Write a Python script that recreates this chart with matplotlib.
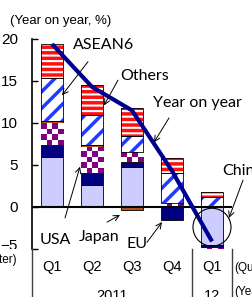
import matplotlib
matplotlib.use('Agg')
import matplotlib.pyplot as plt
import matplotlib.patches as mpatches
import matplotlib.transforms as mtransforms
import numpy as np

# ── data (contribution to year-on-year growth, % points) ──────────────────
quarters = ['Q1', 'Q2', 'Q3', 'Q4', 'Q1']
years    = ['2011', '12']
china    = [5.9, 2.6, 4.8, 0.15, -4.5]
eu       = [1.5, 1.4, 0.5, -1.6, -0.4]
usa      = [2.6, 3.1, 1.2, 0.3, -0.15]
japan    = [0.2, 0.3, -0.4, 0.05, 0.0]
asean6   = [5.1, 3.6, 2.0, 3.55, 1.15]
others   = [4.1, 3.5, 3.3, 1.8, 0.65]
total    = [19.4, 14.3, 11.5, 4.3, -4.1]

plt.rcParams['hatch.linewidth'] = 2.5
TICK_FONT = 'Liberation Sans'
LBL_FONT  = 'Lato'

fig = plt.figure(figsize=(2.52, 2.97), dpi=100)
ax = fig.add_axes([32/252, 48/297, 200/252, 210/297])

x = np.arange(len(quarters))
width = 0.57
pos_base = np.zeros(len(x))
neg_base = np.zeros(len(x))

# (values, face, hatch colour, hatch)
series = [
    (china,  '#CCCCFF', None,      None),
    (eu,     '#000080', None,      None),
    (usa,    'white',   '#800080', 'checker'),
    (japan,  '#B5541C', None,      None),
    (asean6, 'white',   '#1F3BFF', '//'),
    (others, 'white',   '#FF1010', '---'),
]

for vals, face, hcol, hatch in series:
    v = np.array(vals, dtype=float)
    bottom = np.where(v >= 0, pos_base, neg_base)
    if hatch in ('//', '---'):
        ax.bar(x, v, width, bottom=bottom, color=face, edgecolor=hcol,
               hatch=hatch, linewidth=0, zorder=2)
        ax.bar(x, v, width, bottom=bottom, fill=False, edgecolor='black',
               linewidth=0.6, zorder=2.1)
    else:
        bars = ax.bar(x, v, width, bottom=bottom, color=face,
                      edgecolor='black', linewidth=0.6, zorder=2)
        if hatch == 'checker':
            for b in bars:
                bx, by = b.get_x(), b.get_y()
                bw, bh = b.get_width(), b.get_height()
                if abs(bh) < 1e-6:
                    continue
                ncol = 4
                nrow = max(1, int(round(abs(bh) * 8.4 / 5.7)))
                cells = (np.indices((nrow, ncol)).sum(axis=0) % 2)
                img = ax.imshow(cells, cmap=matplotlib.colors.ListedColormap(['white', hcol]),
                                extent=(bx, bx + bw, by, by + bh), aspect='auto',
                                interpolation='nearest', zorder=2.05, origin='lower')
                img.set_clip_path(b)
    pos_base = pos_base + np.where(v >= 0, v, 0)
    neg_base = neg_base + np.where(v < 0, v, 0)

ax.plot(x, total, color='#000090', linewidth=3, zorder=4, solid_capstyle='butt')
ax.axhline(0, color='black', linewidth=1.5, zorder=3)

ax.set_xlim(-0.5, 4.5)
ax.set_ylim(-5, 20)
ax.set_yticks([-5, 0, 5, 10, 15, 20])
ax.set_yticklabels(['\u22125', '0', '5', '10', '15', '20'], fontsize=11, family=TICK_FONT)
ax.set_xticks([])
ax.tick_params(axis='y', direction='in', length=4, width=1, pad=10)
for s in ['top', 'right', 'bottom']:
    ax.spines[s].set_visible(False)
ax.spines['left'].set_linewidth(1.2)
ax.set_facecolor('none')
# lift the -5 label a little, as in the source
lab = ax.get_yticklabels()[0]
lab.set_transform(lab.get_transform() +
                  mtransforms.ScaledTranslation(0, 4/100, fig.dpi_scale_trans))

# highlight circle for Q1 2012
ax.add_patch(mpatches.Ellipse((4, -2.4), 0.95, 4.5, fill=False,
                              edgecolor='black', linewidth=0.8, zorder=5))

# ── labels and arrows ─────────────────────────────────────────────────────
arw = dict(arrowstyle='->', color='black', lw=0.7, shrinkA=0, shrinkB=0)
notes = [
    ('ASEAN6',       (0.525, 19.3), (0.9, 17.3),   (0.25, 13.3)),
    ('Others',       (1.7, 15.6),   (1.65, 15.1),  (1.3, 12.1)),
    ('Year on year', (2.53, 12.4),  (2.925, 10.6), (2.55, 7.7)),
    ('China',        (4.25, 4.3),   (4.775, 3.2),  (4.425, -1.3)),
    ('USA',          (-0.3, -3.9),  (0.325, -1.3), (0.7, 4.8)),
    ('Japan',        (0.675, -3.6), (1.375, -1.8), (1.7, -0.95)),
    ('EU',           (1.85, -4.4),  (2.375, -4.2), (2.75, -1.8)),
]
for txt, tpos, tail, head in notes:
    ax.text(tpos[0], tpos[1], txt, ha='left', va='center', fontsize=11.5,
            family=LBL_FONT, zorder=6, clip_on=False)
    ax.annotate('', xy=head, xytext=tail, arrowprops=arw, zorder=6)

fig.text(10/252, 1 - 21/297, '(Year on year, %)', fontsize=9.5,
         family=TICK_FONT, ha='left', va='center')

# white strip below the plot, covering the lower half of the -5 label
fig.patches.append(mpatches.Rectangle((0, 0), 31/252, 48/297, transform=fig.transFigure,
                                      facecolor='white', edgecolor='none', zorder=10))

# category table under the axis
for px in [32, 192, 232]:
    fig.add_artist(plt.Line2D([px/252, px/252], [0, 48/297], color='#404040',
                              linewidth=1, zorder=11))
for i, q in enumerate(quarters):
    fig.text((52 + 40*i)/252, 1 - 267/297, q, fontsize=10.5, family=TICK_FONT,
             ha='center', va='center', zorder=12)
fig.text(112/252, 1 - 296/297, years[0], fontsize=10.5, family=TICK_FONT,
         ha='center', va='center', zorder=12)
fig.text(212/252, 1 - 296/297, years[1], fontsize=10.5, family=TICK_FONT,
         ha='center', va='center', zorder=12)
fig.text(234/252, 1 - 268/297, '(Quarter)', fontsize=8.5, family=TICK_FONT,
         ha='left', va='center', zorder=12)
fig.text(234/252, 1 - 292/297, '(Year)', fontsize=8.5, family=TICK_FONT,
         ha='left', va='center', zorder=12)
fig.text(17/252, 1 - 260/297, '(Quarter)', fontsize=8.5, family=TICK_FONT,
         ha='right', va='center', zorder=12)

fig.savefig('out.png', dpi=100, facecolor='white')
